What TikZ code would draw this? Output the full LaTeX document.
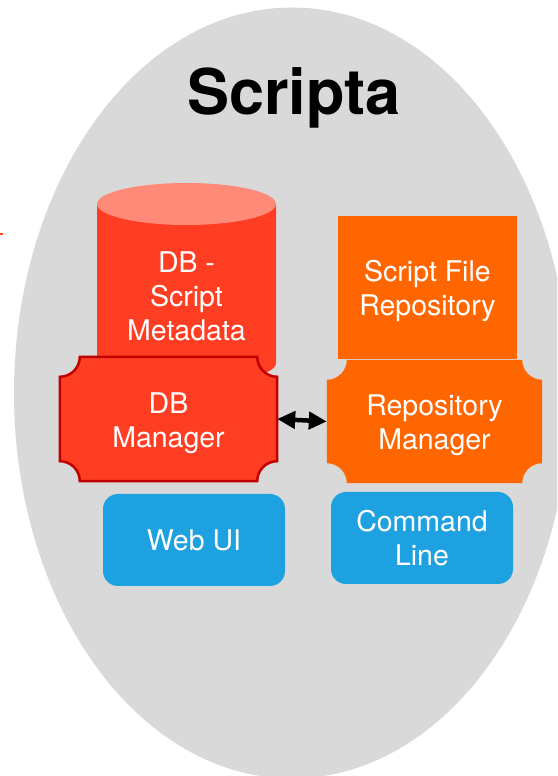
\documentclass[tikz,border=0pt]{standalone}
\usepackage{fontspec}
\setmainfont{TeX Gyre Heros}
\usetikzlibrary{calc,backgrounds,arrows.meta}
\definecolor{bggray}{HTML}{D9D9D9}
\definecolor{dbred}{HTML}{FF3D22}
\definecolor{dbtop}{HTML}{FF8A78}
\definecolor{dbborder}{HTML}{C00000}
\definecolor{orng}{HTML}{FF6600}
\definecolor{uiblue}{HTML}{1EA1E0}
\newcommand\plaquepath[2]{%
  \path[#2] let \p1=(#1.north west), \p2=(#1.south east) in
   (\x1+20pt,\y1) -- (\x2-20pt,\y1) arc[start angle=180,end angle=270,radius=20pt]
   -- (\x2,\y2+20pt) arc[start angle=90,end angle=180,radius=20pt]
   -- (\x1+20pt,\y2) arc[start angle=0,end angle=90,radius=20pt]
   -- (\x1,\y1-20pt) arc[start angle=270,end angle=360,radius=20pt] -- cycle;}
\begin{document}
\begin{tikzpicture}[x=1pt,y=1pt,
  lbl/.style={text=white, font=\fontsize{28.5}{34}\selectfont, align=center, inner sep=0pt},
  shapebox/.style={inner sep=0pt},
  uibox/.style={lbl, fill=uiblue, rounded corners=15pt, minimum width=182pt, minimum height=92pt},
  dbl/.style={line width=4.5pt, {Triangle[length=18pt,width=17pt]}-{Triangle[length=18pt,width=17pt]}}]
\useasboundingbox (0,0) rectangle (557,776);
\node[font=\bfseries\fontsize{63}{70}\selectfont, anchor=base, inner sep=0pt] (title) at (294,661) {Scripta};
\node[lbl] (cyl) at (186.5,479.5) {DB -\\Script\\Metadata};
\node[shapebox, minimum width=217pt, minimum height=124pt] (dbm) at (168.5,357) {};
\node[shapebox, minimum width=215pt, minimum height=123pt] (rm) at (434.5,354.5) {};
\node[shapebox, fill=orng, minimum width=179pt, minimum height=143pt] (sfr) at (427.5,488.5) {};
\node[uibox] (web) at (194,236) {Web UI};
\node[uibox] (cli) at (422,238) {Command\\Line};
\draw[dbl] (dbm.east) -- (rm.west);
\node[lbl] (dbmtxt) at ($(dbm)+(0,-4)$) {DB\\Manager};
\node[lbl] (rmtxt) at ($(rm)+(0,-4)$) {Repository\\Manager};
\node[lbl] (sfrtxt) at ($(sfr)+(0,-3.5)$) {Script File\\Repository};
\begin{scope}[on background layer]
  \clip (0,0) rectangle (557,776);
  \fill[bggray] (292,383) ellipse[x radius=278pt, y radius=385.5pt];
  \fill[dbred] (97pt,572pt) -- (97pt,413pt) arc[start angle=180,end angle=360,x radius=89.5pt,y radius=21pt] -- (276pt,572pt) -- cycle;
  \fill[dbtop] (186.5,572) ellipse[x radius=89.5pt, y radius=21pt];
  \plaquepath{dbm}{fill=dbred, draw=dbborder, line width=2.5pt}
  \plaquepath{rm}{fill=orng}
  \fill[dbred!80!orange] (0,541) rectangle (2.5,543);
\end{scope}
\end{tikzpicture}
\end{document}
